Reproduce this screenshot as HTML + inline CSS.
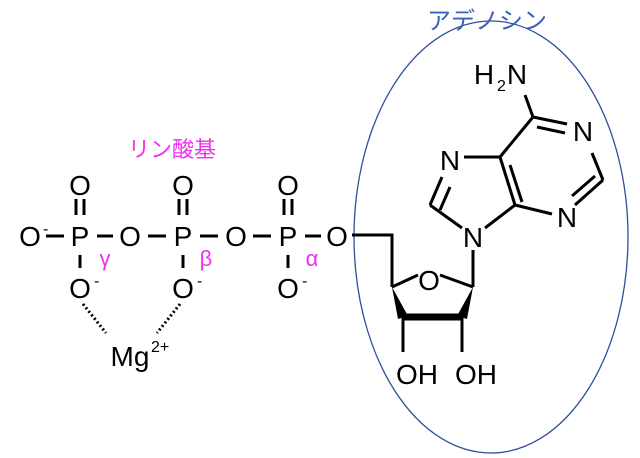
<!DOCTYPE html>
<html><head><meta charset="utf-8"><style>
html,body{margin:0;padding:0;background:#fff;width:640px;height:458px;overflow:hidden}
text{font-family:"Liberation Sans","Noto Sans CJK JP",sans-serif}
</style></head><body>
<svg width="640" height="458" viewBox="0 0 640 458" xmlns="http://www.w3.org/2000/svg">
<ellipse cx="491" cy="237" rx="137" ry="216" fill="none" stroke="#2f4f9a" stroke-width="1.3"/>
<text x="487" y="29" font-size="24" fill="#3a62b8" text-anchor="middle">アデノシン</text>
<text x="172" y="157" font-size="22" fill="#ee33ee" text-anchor="middle">リン酸基</text>
<g font-size="28" fill="#000" text-anchor="middle">
<text x="30" y="246">O</text><text x="80" y="246">P</text><text x="130" y="246">O</text>
<text x="183" y="246">P</text><text x="236" y="246">O</text><text x="288" y="246">P</text><text x="337" y="246">O</text>
<text x="80" y="195">O</text><text x="183" y="195">O</text><text x="288" y="195">O</text>
<text x="80" y="298">O</text><text x="183" y="298">O</text><text x="288" y="298">O</text>
<text x="130" y="366">Mg</text>
</g>
<g font-size="16" fill="#000">
<text x="43" y="234">-</text><text x="94" y="286">-</text><text x="197" y="286">-</text><text x="302" y="286">-</text>
<text x="151" y="352">2+</text>
</g>
<g font-size="22" fill="#ee33ee" text-anchor="middle">
<text x="105" y="266">γ</text><text x="206" y="266">β</text><text x="312" y="266">α</text>
</g>
<g stroke="#000" stroke-width="3" fill="none">
<line x1="46" y1="236" x2="64" y2="236"/><line x1="97" y1="236" x2="113" y2="236"/>
<line x1="148" y1="236" x2="166" y2="236"/><line x1="200" y1="236" x2="218" y2="236"/>
<line x1="253" y1="236" x2="271" y2="236"/><line x1="305" y1="236" x2="321" y2="236"/>
<line x1="76" y1="199" x2="76" y2="215"/><line x1="84" y1="199" x2="84" y2="215"/>
<line x1="179" y1="199" x2="179" y2="215"/><line x1="187" y1="199" x2="187" y2="215"/>
<line x1="284" y1="199" x2="284" y2="215"/><line x1="292" y1="199" x2="292" y2="215"/>
<line x1="80" y1="255" x2="80" y2="268"/><line x1="183" y1="255" x2="183" y2="268"/><line x1="288" y1="255" x2="288" y2="268"/>
<line x1="83" y1="304" x2="106" y2="333" stroke-dasharray="2,2.5"/>
<line x1="180" y1="304" x2="157" y2="333" stroke-dasharray="2,2.5"/>
<polyline points="352,235 392,235 392,287"/>
<line x1="392" y1="287" x2="418" y2="275"/><line x1="440" y1="275" x2="473" y2="287"/>
<line x1="473" y1="287" x2="473" y2="250"/>
<line x1="403" y1="317" x2="403" y2="352"/><line x1="462" y1="317" x2="462" y2="352"/>
<line x1="462" y1="228" x2="430" y2="205"/><line x1="485" y1="228" x2="515" y2="205"/>
<line x1="430" y1="205" x2="442" y2="177"/><line x1="440" y1="210" x2="450" y2="187"/>
<line x1="464" y1="157" x2="500" y2="157"/>
<line x1="500" y1="157" x2="515" y2="205"/><line x1="510" y1="165" x2="522" y2="202"/>
<line x1="515" y1="205" x2="552" y2="214"/>
<line x1="575" y1="205" x2="603" y2="180"/><line x1="572" y1="196" x2="595" y2="176"/>
<line x1="603" y1="180" x2="592" y2="153"/>
<line x1="500" y1="157" x2="533" y2="117"/>
<line x1="533" y1="117" x2="567" y2="124"/><line x1="537" y1="127" x2="565" y2="133"/>
<line x1="533" y1="117" x2="525" y2="95"/>
</g>
<polygon points="392,287 398,319 408,316" fill="#000"/>
<polygon points="473,287 457,316 467,319" fill="#000"/>
<line x1="403" y1="317" x2="462" y2="317" stroke="#000" stroke-width="7"/>
<g font-size="28" fill="#000" text-anchor="middle">
<text x="429" y="290">O</text><text x="473" y="247">N</text>
<text x="450" y="170">N</text><text x="567" y="227">N</text><text x="583" y="141">N</text>
<text x="517" y="84">N</text><text x="484" y="84">H</text>
<text x="417" y="384">OH</text><text x="476" y="384">OH</text>
</g>
<text x="497" y="91" font-size="16" fill="#000">2</text>
</svg>
</body></html>
